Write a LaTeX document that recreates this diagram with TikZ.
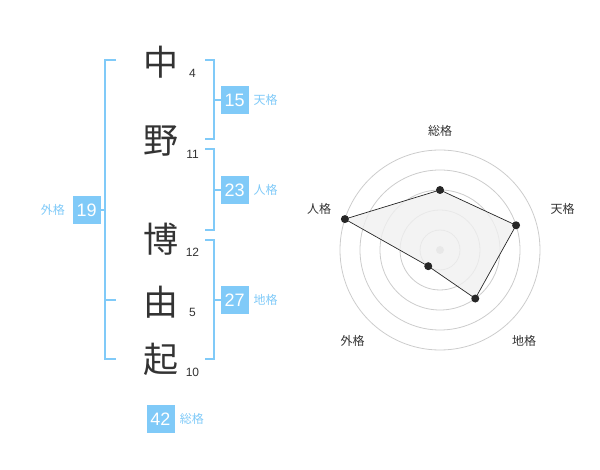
\documentclass[tikz,border=0pt]{standalone}
\usepackage{fontspec}
\usetikzlibrary{positioning}
\setmainfont{Liberation Sans}
\newfontfamily\jpfont{Noto Sans CJK JP}
\definecolor{kakublue}{RGB}{128,202,248}
\definecolor{inkgray}{RGB}{51,51,51}
\definecolor{ringgray}{RGB}{204,204,204}
\definecolor{polyfill}{RGB}{240,240,240}

\newcommand\kanji[5]{
	\node[kanjitext] (#1) at (160.5,#2) {#3};
	\node[strokenum] (#1n) at (192.5,#4) {#5};
}
\newcommand\rbracket[3]{
	\draw[bracket] (205,#1) -- (214.3,#1) -- (214.3,#2) -- (205,#2) ;
	\draw[bracket] (#3.west) -- ++(-6.4,0) ;
}

\begin{document}
\begin{tikzpicture}[x=1pt, y=-1pt,
	kanjitext/.style={font=\jpfont\fontsize{35}{35}\selectfont, text=inkgray, inner sep=0},
	strokenum/.style={font=\fontsize{12}{12}\selectfont, text=inkgray, inner sep=0},
	kakubox/.style={fill=kakublue, text=white, font=\fontsize{18}{18}\selectfont, minimum size=28pt, inner sep=0},
	kakulabel/.style={font=\jpfont\fontsize{12}{12}\selectfont, text=kakublue, inner sep=0},
	bracket/.style={draw=kakublue, line width=2pt},
	ring/.style={draw=ringgray, line width=0.8pt},
	axislabel/.style={font=\jpfont\fontsize{12}{12}\selectfont, text=inkgray, inner sep=0}]
	\useasboundingbox (0,0) rectangle (600,470);

	% name and stroke counts
	\kanji{naka}{61.7}{中}{73.3}{4}
	\kanji{no}{140.6}{野}{154}{11}
	\kanji{hiro}{239}{博}{252.8}{12}
	\kanji{yoshi}{302}{由}{312.8}{5}
	\kanji{ki}{359}{起}{372.8}{10}

	% boxes
	\node[kakubox] (ten) at (234.7,100) {15};
	\node[kakulabel, right=4.5pt of ten] (tenl) {天格};
	\node[kakubox] (jin) at (234.7,190) {23};
	\node[kakulabel, right=4.5pt of jin] (jinl) {人格};
	\node[kakubox] (chi) at (234.7,300) {27};
	\node[kakulabel, right=4.5pt of chi] (chil) {地格};
	\node[kakubox] (gai) at (86.7,210) {19};
	\node[kakulabel, left=7.5pt of gai] (gail) {外格};
	\node[kakubox] (sou) at (160.5,419) {42};
	\node[kakulabel, right=5pt of sou] (soul) {総格};

	% right brackets
	\rbracket{60}{139.3}{ten}
	\rbracket{149.3}{230}{jin}
	\rbracket{240}{359.3}{chi}
	% outer bracket
	\draw[bracket] (116,60) -- (105,60) -- (105,359.3) -- (116,359.3) ;
	\draw[bracket] (105,300) -- (116,300) ;
	\draw[bracket] (gai.east) -- ++(4.3,0) ;

	% radar chart
	\begin{scope}[shift={(440,250)}, yscale=-1]
		\foreach \r in {20,40,...,100} \draw[ring] (0,0) circle (\r);
		\fill[ringgray] (0,0) circle (4);
		\coordinate (psou) at (90:60);
		\coordinate (pten) at (18:80);
		\coordinate (pchi) at (-54:60);
		\coordinate (pgai) at (-126:20);
		\coordinate (pjin) at (162:100);
		\draw[fill=polyfill, fill opacity=0.8, draw=black!85, line width=0.7pt] (psou) -- (pten) -- (pchi) -- (pgai) -- (pjin) -- cycle;
		\foreach \p in {psou,pten,pchi,pgai,pjin} \fill[black!85] (\p) circle (4);
		\node[axislabel] (lsou) at (0,119.3) {総格};
		\node[axislabel] (lten) at (122.5,41.5) {天格};
		\node[axislabel] (ljin) at (-121,41.5) {人格};
		\node[axislabel] (lgai) at (-87.5,-90.8) {外格};
		\node[axislabel] (lchi) at (84,-91) {地格};
	\end{scope}
\end{tikzpicture}
\end{document}
